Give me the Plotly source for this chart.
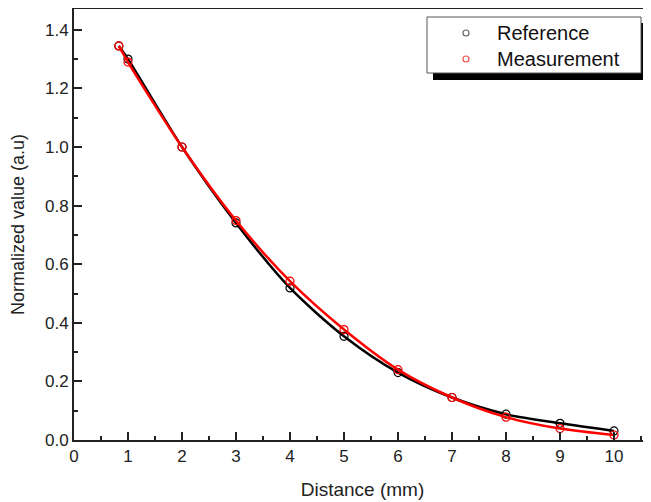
import plotly.graph_objects as go

x_ref = [0.83, 1, 2, 3, 4, 5, 6, 7, 8, 9, 10]
y_ref = [1.345, 1.30, 1.0, 0.741, 0.519, 0.354, 0.23, 0.145, 0.088, 0.057, 0.031]
x_meas = [0.83, 1, 2, 3, 4, 5, 6, 7, 8, 9, 10]
y_meas = [1.345, 1.29, 1.0, 0.749, 0.542, 0.377, 0.24, 0.145, 0.078, 0.039, 0.017]
series_names = ["Reference", "Measurement"]

x_ticks = list(range(0, 11))
y_ticks = [0.0, 0.2, 0.4, 0.6, 0.8, 1.0, 1.2, 1.4]

FONT = "Liberation Sans, Arial, sans-serif"

fig = go.Figure()
series = [(series_names[0], x_ref, y_ref, "black"),
          (series_names[1], x_meas, y_meas, "red")]
for name, xs, ys, col in series:
    fig.add_trace(go.Scatter(x=xs, y=ys, mode="lines", name=name,
                             line=dict(color=col, width=2.5, shape="spline", smoothing=0.8),
                             showlegend=False, hoverinfo="skip"))
    fig.add_trace(go.Scatter(x=xs, y=ys, mode="markers", name=name,
                             marker=dict(symbol="circle-open", size=8, color=col, line=dict(width=1.2)),
                             showlegend=False))

# page is rendered with an 8px body margin
OFF = 8
W, H = 651, 502
L, R, T, B = 74 - OFF, OFF, 9 - OFF, 62 + OFF
pw, ph = W - L - R, H - T - B
x_max = pw / 54.0

def pg(x, y):
    """page pixel -> paper coords"""
    fx, fy = x - OFF, y - OFF
    return (fx - L) / pw, 1 - (fy - T) / ph

def rect(x0p, y0p, x1p, y1p, **kw):
    a, b = pg(x0p, y0p)
    c, d = pg(x1p, y1p)
    fig.add_shape(type="rect", xref="paper", yref="paper", x0=a, x1=c, y0=d, y1=b,
                  layer="above", **kw)

# manual legend: shadow, box, markers, text
rect(433, 23, 648, 80, fillcolor="black", line=dict(width=0))
rect(427, 17, 641, 73, fillcolor="white", line=dict(color="#555", width=1))
leg_cols = ["#666", "#f05050"]
for i, (name, cy) in enumerate(zip(series_names, [33, 59])):
    a, b = pg(463, cy - 3)
    c, d = pg(469, cy + 3)
    fig.add_shape(type="circle", xref="paper", yref="paper", x0=a, x1=c, y0=d, y1=b,
                  line=dict(color=leg_cols[i], width=1.2), layer="above")
    tx, ty = pg(495, cy)
    fig.add_annotation(x=tx, y=ty, xref="paper", yref="paper", text=name, showarrow=False,
                       xanchor="left", yanchor="middle", font=dict(size=20, color="#111"))

fig.update_layout(
    width=W, height=H,
    margin=dict(l=L, r=R, t=T, b=B, autoexpand=False),
    paper_bgcolor="white", plot_bgcolor="white",
    font=dict(family=FONT, color="#222", size=16),
    showlegend=False,
    xaxis=dict(range=[0, x_max], tickvals=x_ticks, ticktext=[str(v) for v in x_ticks],
               ticks="inside", ticklen=8, tickwidth=1.5, tickcolor="#222",
               minor=dict(dtick=0.5, ticks="inside", ticklen=4, tickwidth=1.5, tickcolor="#222"),
               showline=True, linecolor="#222", linewidth=2, mirror=True,
               showgrid=False, zeroline=False, automargin=False,
               title=dict(text="Distance (mm)", font=dict(size=19), standoff=17),
               tickfont=dict(size=17)),
    yaxis=dict(range=[0, 1.471], tickvals=y_ticks, ticktext=[f"{v:.1f}" for v in y_ticks],
               ticks="inside", ticklen=8, tickwidth=1.5, tickcolor="#222",
               minor=dict(dtick=0.1, ticks="inside", ticklen=4, tickwidth=1.5, tickcolor="#222"),
               showline=True, linecolor="#222", linewidth=2, mirror=False,
               showgrid=False, zeroline=False, automargin=False,
               title=dict(text="Normalized value (a.u)", font=dict(size=18), standoff=22),
               tickfont=dict(size=17)),
)

fig.write_html("out.html")
